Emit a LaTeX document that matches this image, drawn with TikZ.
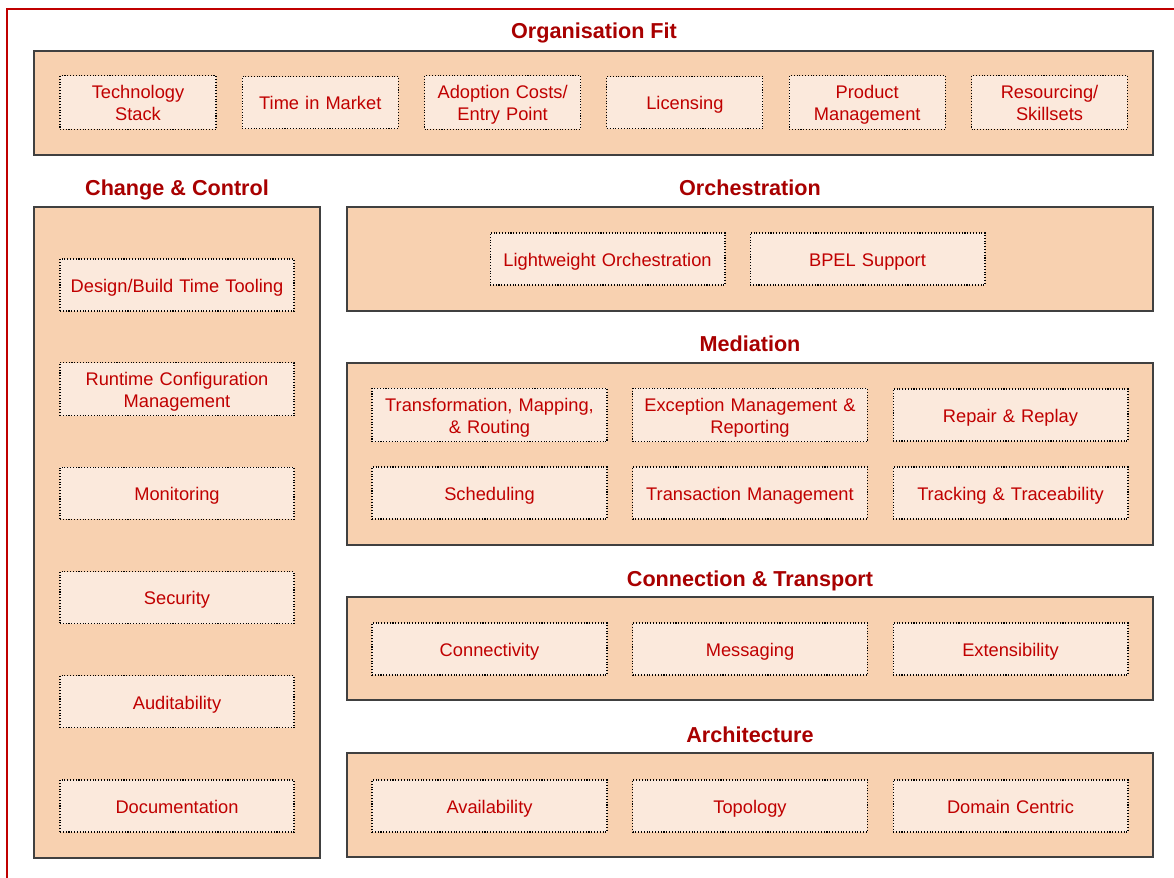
\documentclass[tikz,border=0pt]{standalone}
\usepackage{fontspec}
\setmainfont{Liberation Sans}
\usepackage{tikz}
\definecolor{frame}{HTML}{C00000}
\definecolor{titlered}{HTML}{A80000}
\definecolor{itemred}{HTML}{C00000}
\definecolor{panelfill}{HTML}{F8D1B0}
\definecolor{itemfill}{HTML}{FBE9DC}
\definecolor{panelline}{HTML}{404040}
\newcommand{\topstrut}{\rule[-3.75pt]{0pt}{15.9pt}}
\tikzset{
    panel/.style={draw=panelline, line width=1pt, fill=panelfill},
    heading/.style={text=titlered, font=\fontsize{12.3}{14}\selectfont\bfseries, inner sep=0pt, anchor=base},
    item/.style={draw=black, densely dotted, line width=0.6pt, fill=itemfill, text=itemred,
        align=center, minimum height=1.04cm, inner sep=1pt,
        font=\fontsize{10.4}{12.5}\selectfont,
        execute at begin node=\topstrut, execute at end node=\strut},
    narrow/.style={item, minimum width=3.12cm, text width=3cm},
    wide/.style={item, minimum width=4.7cm, text width=4.55cm},
}

\begin{document}
\begin{tikzpicture}[x=0.02cm, y=-0.02cm]
        \useasboundingbox (0,0) rectangle (1174,877);
        \begin{scope}
        \clip (0,0) rectangle (1174,877);
        \draw[frame, line width=1.1pt] (7,9) rectangle (1200,900);
        \end{scope}

        \draw[panel] (34,51) rectangle (1153,155);
        \node[heading] (orgfit) at (594,38) {Organisation Fit};
        \foreach \t [count=\i] in {Technology\\Stack, Time in Market, Adoption Costs/\\Entry Point, Licensing, Product\\Management, Resourcing/\\Skillsets}
            \node[narrow] (org\i) at ({138+182.3*(\i-1)},102.5) {\t};

        \draw[panel] (34,207) rectangle (320,858);
        \node[heading] (change) at (177,195) {Change \& Control};
        \foreach \t [count=\i] in {Design/Build Time Tooling, Runtime Configuration\\Management, Monitoring, Security, Auditability, Documentation}
            \node[wide, minimum width=4.68cm] (cc\i) at (177,{285+104.2*(\i-1)}) {\t};

        \draw[panel] (347,207) rectangle (1153,311);
        \node[heading] (orch) at (750,195) {Orchestration};
        \node[wide] (orc1) at (607.5,259) {Lightweight Orchestration};
        \node[wide] (orc2) at (867.5,259) {BPEL Support};

        \draw[panel] (347,363) rectangle (1153,545);
        \node[heading] (med) at (750,351) {Mediation};
        \foreach \t [count=\i] in {{Transformation, Mapping,\\\& Routing}, Exception Management \&\\Reporting, Repair \& Replay}
            \node[wide] (med\i) at ({489.5+260.5*(\i-1)},415) {\t};
        \foreach \t [count=\i] in {Scheduling, Transaction Management, Tracking \& Traceability}
            \node[wide] (medb\i) at ({489.5+260.5*(\i-1)},493) {\t};

        \draw[panel] (347,597) rectangle (1153,700);
        \node[heading] (conn) at (750,586) {Connection \& Transport};
        \foreach \t [count=\i] in {Connectivity, Messaging, Extensibility}
            \node[wide] (con\i) at ({489.5+260.5*(\i-1)},649) {\t};

        \draw[panel] (347,753) rectangle (1153,857);
        \node[heading] (arch) at (750,742) {Architecture};
        \foreach \t [count=\i] in {Availability, Topology, Domain Centric}
            \node[wide] (arc\i) at ({489.5+260.5*(\i-1)},806) {\t};
    \end{tikzpicture}
\end{document}
